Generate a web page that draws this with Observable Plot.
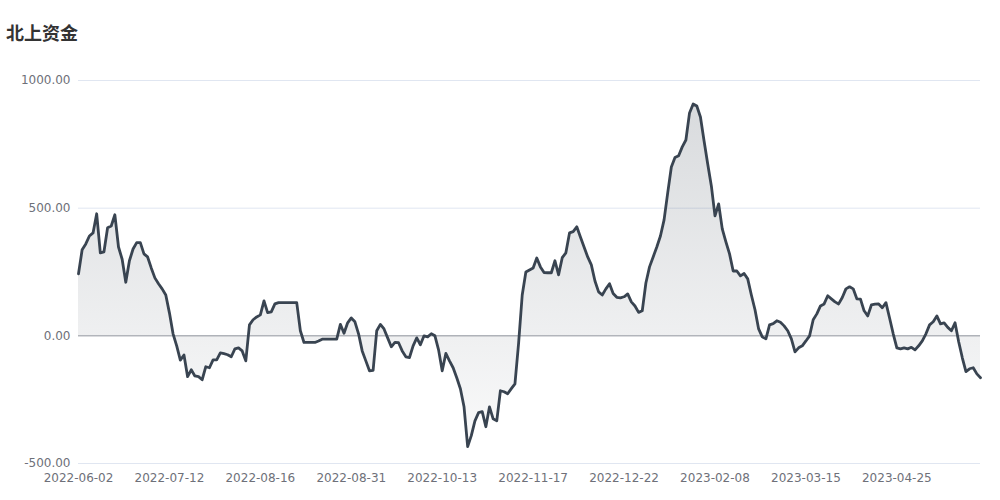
<!DOCTYPE html>
<html>
<head>
<meta charset="utf-8">
<script src="https://cdn.jsdelivr.net/npm/d3@7"></script>
<script src="https://cdn.jsdelivr.net/npm/@observablehq/plot@0.6"></script>
<style>
  html, body { margin: 0; padding: 0; background: #fff; }
  #wrap { position: relative; width: 1000px; height: 500px; }
  #title { position: absolute; left: 6px; top: 19px; font-family: "Noto Sans CJK SC", sans-serif; font-weight: bold; font-size: 18px; color: #333; line-height: 26px; }
  #chart { position: absolute; left: 0; top: 0; }
</style>
</head>
<body>
<div id="wrap">
  <div id="chart"></div>
  <div id="title">北上资金</div>
</div>
<script>
const title = "北上资金";
const tickLabels = ["2022-06-02","2022-07-12","2022-08-16","2022-08-31","2022-10-13","2022-11-17","2022-12-22","2023-02-08","2023-03-15","2023-04-25"];
const tickEvery = 25;
const yTicks = [-500, 0, 500, 1000];
const values = [
 243,337,360,391,403,478,325,329,423,430,
 474,348,300,210,294,340,365,365,321,309,
 266,227,204,184,160,90,8,-39,-95,-75,
 -160,-133,-157,-160,-172,-121,-125,-94,-94,-67,
 -70,-74,-82,-51,-47,-59,-98,43,63,74,
 82,137,91,94,125,130,130,130,130,130,
 130,20,-26,-26,-26,-26,-20,-13,-13,-13,
 -13,-13,45,10,51,70,55,8,-59,-98,
 -137,-135,20,45,27,-8,-43,-26,-27,-59,
 -82,-85,-39,-8,-35,0,-4,8,0,-55,
 -137,-69,-98,-125,-164,-207,-278,-434,-391,-333,
 -301,-297,-356,-278,-325,-333,-215,-219,-227,-207,
 -188,-30,160,250,258,266,305,270,248,247,
 247,294,239,306,325,403,408,427,387,348,
 309,278,215,172,160,184,204,166,151,149,
 153,164,133,117,92,98,207,270,309,348,
 391,454,560,661,698,705,740,767,873,908,
 900,857,763,673,587,470,517,419,368,321,
 254,254,235,244,223,160,102,27,-4,-12,
 43,48,59,53,39,20,-12,-63,-47,-39,
 -20,0,63,86,117,125,157,145,133,125,
 150,184,192,184,145,144,98,78,121,124,
 125,110,130,70,8,-47,-51,-47,-51,-45,
 -55,-39,-20,8,43,55,78,47,51,33,
 20,51,-23,-86,-140,-129,-125,-149,-164
];

const data = values.map((v, i) => ({i, v}));
const tickIdx = tickLabels.map((_, k) => k * tickEvery);
const lineColor = "#394451";
const font = "DejaVu Sans, sans-serif";

const plot = Plot.plot({
  width: 1000,
  height: 500,
  marginLeft: 78,
  marginRight: 20,
  marginTop: 80,
  marginBottom: 37,
  style: { fontFamily: font, fontSize: "12px", color: "#6e7079", background: "transparent" },
  x: {
    domain: [0, values.length - 1],
    ticks: tickIdx,
    tickFormat: i => tickLabels[Math.round(i / tickEvery)],
    tickSize: 0,
    tickPadding: 10,
    label: null
  },
  y: {
    domain: [-500, 1000],
    ticks: yTicks,
    tickFormat: d => d.toFixed(2),
    tickSize: 0,
    tickPadding: 8,
    label: null
  },
  marks: [
    Plot.ruleY(yTicks.filter(d => d !== 0), { stroke: "#e0e6f1", strokeWidth: 1 }),
    Plot.areaY(data, { x: "i", y: "v", fill: "url(#areaGrad)" }),
    Plot.ruleY([0], { stroke: "#8e929b", strokeWidth: 1 }),
    Plot.lineY(data, { x: "i", y: "v", stroke: lineColor, strokeWidth: 2.8, strokeLinejoin: "round", strokeLinecap: "round" })
  ]
});

const svg = d3.select(plot);
const defs = svg.insert("defs", ":first-child");
const g = defs.append("linearGradient")
  .attr("id", "areaGrad")
  .attr("gradientUnits", "userSpaceOnUse")
  .attr("x1", 0).attr("x2", 0).attr("y1", 90).attr("y2", 463);
g.append("stop").attr("offset", "0%").attr("stop-color", lineColor).attr("stop-opacity", 0.2);
g.append("stop").attr("offset", "100%").attr("stop-color", lineColor).attr("stop-opacity", 0.02);

document.getElementById("chart").appendChild(plot);
</script>
</body>
</html>
